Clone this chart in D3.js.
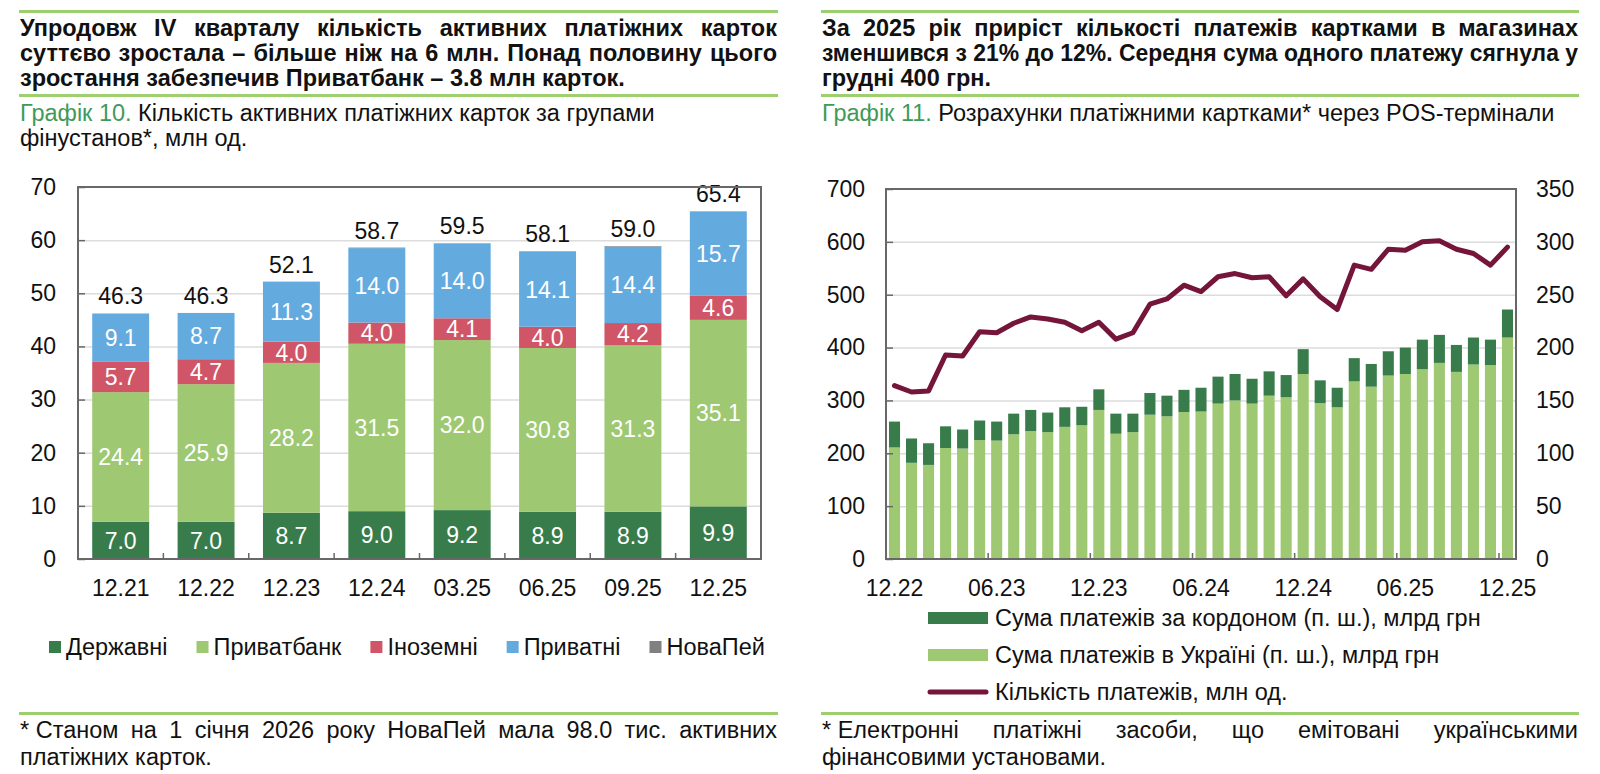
<!DOCTYPE html>
<html>
<head>
<meta charset="utf-8">
<script src="https://cdn.jsdelivr.net/npm/d3@7"></script>
<style>
    body { margin: 0; background: #fff; }
    svg text { font-family: "Liberation Sans", Arial, sans-serif; }
</style>
</head>
<body>
<svg id="chart" width="1600" height="774"></svg>
<script>
// Графік 10 - картки за групами фінустанов, млн од.
const cardDates = ['12.21', '12.22', '12.23', '12.24', '03.25', '06.25', '09.25', '12.25'];
const stateBanks = [7.0, 7.0, 8.7, 9.0, 9.2, 8.9, 8.9, 9.9];
const privatBank = [24.4, 25.9, 28.2, 31.5, 32.0, 30.8, 31.3, 35.1];
const foreignBanks = [5.7, 4.7, 4.0, 4.0, 4.1, 4.0, 4.2, 4.6];
const privateBanks = [9.1, 8.7, 11.3, 14.0, 14.0, 14.1, 14.4, 15.7];
const novaPay = [0, 0, 0, 0.1, 0.1, 0.1, 0.1, 0.1];
const cardTotals = [46.3, 46.3, 52.1, 58.7, 59.5, 58.1, 59.0, 65.4];
const cardSeriesNames = ['Державні', 'Приватбанк', 'Іноземні', 'Приватні', 'НоваПей'];
const cardTicks = [0, 10, 20, 30, 40, 50, 60, 70];

// Графік 11 - POS-термінали
const posMonths = ['12.22', '01.23', '02.23', '03.23', '04.23', '05.23', '06.23', '07.23', '08.23', '09.23', '10.23', '11.23',
    '12.23', '01.24', '02.24', '03.24', '04.24', '05.24', '06.24', '07.24', '08.24', '09.24', '10.24', '11.24',
    '12.24', '01.25', '02.25', '03.25', '04.25', '05.25', '06.25', '07.25', '08.25', '09.25', '10.25', '11.25', '12.25'];
const posUkraine = [211, 182, 178, 210, 209, 225, 224, 236, 242, 240, 250, 253, 282, 237, 240, 273, 270, 278, 279,
    294, 300, 294, 309, 306, 350, 295, 287, 336, 326, 347, 350, 359, 371, 354, 368, 367, 419];
const posAbroad = [49, 46, 41, 41, 36, 37, 36, 39, 40, 37, 37, 35, 39, 38, 35, 41, 39, 42, 45,
    51, 50, 47, 46, 42, 47, 43, 37, 44, 43, 46, 50, 56, 53, 51, 51, 48, 53];
const posCount = [164, 158, 159, 193, 192, 215, 214, 223, 229, 227, 224, 216, 224, 208, 214, 241, 246, 259, 253,
    267, 270, 266, 267, 249, 265, 248, 236, 278, 274, 293, 292, 300, 301, 293, 289, 278, 295];
const posTickMonths = ['12.22', '06.23', '12.23', '06.24', '12.24', '06.25', '12.25'];
const posLeftTicks = [0, 100, 200, 300, 400, 500, 600, 700];
const posRightTicks = [0, 50, 100, 150, 200, 250, 300, 350];
const posLegend = ['Сума платежів за кордоном (п. ш.), млрд грн', 'Сума платежів в Україні (п. ш.), млрд грн', 'Кількість платежів, млн од.'];

const colors = {
    state: '#377c4a', privat: '#9ec872', foreign: '#cf5567', priv: '#63abdf', nova: '#808080',
    line: '#741539', rule: '#9dcf6e', label: '#3f9a5a', frame: '#686868', grid: '#dcdcdc', text: '#111'
};

const svg = d3.select('#chart');

// рядок тексту, за потреби вирівняний по ширині (пробіли між словами)
function textLine(parent, str, x0, y, size, bold, width) {
    const t = parent.append('text')
        .attr('y', y)
        .attr('font-size', size)
        .attr('font-weight', bold ? 'bold' : null)
        .attr('fill', colors.text);
    if (!width) {
        t.attr('x', x0).text(str);
        return t;
    }
    const words = str.split(' ');
    const spans = words.map(w => t.append('tspan').text(w));
    const widths = spans.map(s => s.node().getComputedTextLength());
    let gap = (width - d3.sum(widths)) / (words.length - 1);
    if (gap < size * 0.2) {
        // не влазить - трохи стискаємо
        spans.forEach(s => s.remove());
        t.attr('x', x0).text(str).attr('textLength', width).attr('lengthAdjust', 'spacingAndGlyphs');
        return t;
    }
    let x = x0;
    spans.forEach((s, i) => {
        s.attr('x', x);
        x += widths[i] + gap;
    });
    return t;
}

const fs = 23.5;

function header(x0, x1, lines, subtitleNum, subtitleLines) {
    const g = svg.append('g');
    g.append('rect').attr('x', x0 - 1).attr('y', 10).attr('width', x1 - x0 + 2).attr('height', 3).attr('fill', colors.rule);
    g.append('rect').attr('x', x0 - 1).attr('y', 94).attr('width', x1 - x0 + 2).attr('height', 3).attr('fill', colors.rule);
    lines.forEach((l, i) => {
        textLine(g, l, x0, 36 + i * 25, fs, true, i < lines.length - 1 ? x1 - x0 : null);
    });
    const sub = g.append('text').attr('x', x0).attr('y', 121).attr('font-size', fs).attr('fill', colors.text);
    sub.append('tspan').attr('fill', colors.label).text(subtitleNum);
    sub.append('tspan').text(' ' + subtitleLines[0]);
    if (subtitleLines[1]) {
        textLine(g, subtitleLines[1], x0, 146, fs, false, null);
    }
}

function footer(x0, x1, lines) {
    const g = svg.append('g');
    g.append('rect').attr('x', x0 - 1).attr('y', 712).attr('width', x1 - x0 + 2).attr('height', 3).attr('fill', colors.rule);
    lines.forEach((l, i) => {
        textLine(g, l, x0, 738 + i * 27, fs, false, i < lines.length - 1 ? x1 - x0 : null);
    });
}

header(20, 777, [
    'Упродовж IV кварталу кількість активних платіжних карток',
    'суттєво зростала – більше ніж на 6 млн. Понад половину цього',
    'зростання забезпечив Приватбанк – 3.8 млн карток.'
], 'Графік 10.', ['Кількість активних платіжних карток за групами', 'фінустанов*, млн од.']);

header(822, 1578, [
    'За 2025 рік приріст кількості платежів картками в магазинах',
    'зменшився з 21% до 12%. Середня сума одного платежу сягнула у',
    'грудні 400 грн.'
], 'Графік 11.', ['Розрахунки платіжними картками* через POS-термінали']);

footer(20, 777, ['*\u00a0Станом на 1 січня 2026 року НоваПей мала 98.0 тис. активних', 'платіжних карток.']);
footer(822, 1578, ['*\u00a0Електронні платіжні засоби, що емітовані українськими', 'фінансовими установами.']);

// ---------- Графік 10 ----------
function drawCards() {
    const left = 78, right = 761, top = 187, bottom = 559;
    const g = svg.append('g');

    const x = d3.scaleBand().domain(cardDates).range([left, right]).paddingInner(0.333).paddingOuter(0.1665);
    const y = d3.scaleLinear().domain([0, 70]).range([bottom, top]);

    // сітка
    g.append('g')
        .attr('transform', `translate(${left},0)`)
        .call(d3.axisLeft(y).tickValues(cardTicks.slice(1, -1)).tickSize(-(right - left)).tickFormat(''))
        .call(a => a.select('.domain').remove())
        .selectAll('line').attr('stroke', colors.grid).attr('stroke-width', 1.5);

    const rows = cardDates.map((d, i) => ({
        date: d, state: stateBanks[i], privat: privatBank[i], foreign: foreignBanks[i], priv: privateBanks[i], nova: novaPay[i]
    }));
    const keys = ['state', 'privat', 'foreign', 'priv', 'nova'];
    const stacked = d3.stack().keys(keys)(rows);

    stacked.forEach(layer => {
        g.append('g').selectAll('rect')
            .data(layer)
            .join('rect')
            .attr('x', d => x(d.data.date))
            .attr('width', x.bandwidth())
            .attr('y', d => y(d[1]))
            .attr('height', d => y(d[0]) - y(d[1]))
            .attr('fill', colors[layer.key]);

        if (layer.key !== 'nova') {
            g.append('g').selectAll('text')
                .data(layer)
                .join('text')
                .attr('x', d => x(d.data.date) + x.bandwidth() / 2)
                .attr('y', d => y((d[0] + d[1]) / 2))
                .attr('dy', '0.36em')
                .attr('text-anchor', 'middle')
                .attr('font-size', 23)
                .attr('fill', '#fff')
                .text(d => d3.format('.1f')(d[1] - d[0]));
        }
    });

    // підсумки
    const tops = stacked[stacked.length - 1];
    g.append('g').selectAll('text')
        .data(cardTotals)
        .join('text')
        .attr('x', (d, i) => x(cardDates[i]) + x.bandwidth() / 2)
        .attr('y', (d, i) => y(tops[i][1]) - 9)
        .attr('text-anchor', 'middle')
        .attr('font-size', 23)
        .attr('fill', colors.text)
        .text(d => d3.format('.1f')(d));

    // вісь Y
    g.append('g')
        .attr('transform', `translate(${left},0)`)
        .call(d3.axisLeft(y).tickValues(cardTicks).tickSize(-7).tickPadding(22))
        .call(a => a.select('.domain').remove())
        .call(a => a.selectAll('line').attr('stroke', colors.frame).attr('stroke-width', 1.5))
        .call(a => a.selectAll('text').attr('font-size', 23).attr('fill', colors.text));

    // вісь X
    g.append('g')
        .attr('transform', `translate(0,${bottom})`)
        .call(d3.axisBottom(x).tickSize(0).tickPadding(21))
        .call(a => a.select('.domain').remove())
        .call(a => a.selectAll('text').attr('font-size', 23).attr('fill', colors.text));

    const half = x.step() * x.paddingInner() / 2;
    g.append('g').selectAll('line')
        .data(cardDates.slice(1))
        .join('line')
        .attr('x1', d => x(d) - half).attr('x2', d => x(d) - half)
        .attr('y1', bottom).attr('y2', bottom - 6)
        .attr('stroke', colors.frame).attr('stroke-width', 1.5);

    g.append('rect')
        .attr('x', left).attr('y', top).attr('width', right - left).attr('height', bottom - top)
        .attr('fill', 'none').attr('stroke', colors.frame).attr('stroke-width', 2);

    // легенда
    const legend = g.append('g');
    let lx = 49;
    cardSeriesNames.forEach((name, i) => {
        legend.append('rect').attr('x', lx).attr('y', 641).attr('width', 12).attr('height', 12).attr('fill', colors[keys[i]]);
        const t = legend.append('text').attr('x', lx + 17).attr('y', 655).attr('font-size', 23.5).attr('fill', colors.text).text(name);
        lx += 17 + t.node().getComputedTextLength() + 29;
    });
}

// ---------- Графік 11 ----------
function drawPos() {
    const left = 886, right = 1516, top = 189, bottom = 559;
    const g = svg.append('g');

    const x = d3.scaleBand().domain(posMonths).range([left, right]).paddingInner(0.35).paddingOuter(0.175);
    const y = d3.scaleLinear().domain([0, 700]).range([bottom, top]);
    const y2 = d3.scaleLinear().domain([0, 350]).range([bottom, top]);

    g.append('g')
        .attr('transform', `translate(${left},0)`)
        .call(d3.axisLeft(y).tickValues(posLeftTicks.slice(1, -1)).tickSize(-(right - left)).tickFormat(''))
        .call(a => a.select('.domain').remove())
        .selectAll('line').attr('stroke', colors.grid).attr('stroke-width', 1.5);

    g.append('g').selectAll('rect')
        .data(posUkraine)
        .join('rect')
        .attr('x', (d, i) => x(posMonths[i]))
        .attr('width', x.bandwidth())
        .attr('y', d => y(d))
        .attr('height', d => bottom - y(d))
        .attr('fill', colors.privat);

    g.append('g').selectAll('rect')
        .data(posAbroad)
        .join('rect')
        .attr('x', (d, i) => x(posMonths[i]))
        .attr('width', x.bandwidth())
        .attr('y', (d, i) => y(posUkraine[i] + d))
        .attr('height', (d, i) => y(posUkraine[i]) - y(posUkraine[i] + d))
        .attr('fill', colors.state);

    const line = d3.line()
        .x((d, i) => x(posMonths[i]) + x.bandwidth() / 2)
        .y(d => y2(d));
    g.append('path')
        .datum(posCount)
        .attr('d', line)
        .attr('fill', 'none')
        .attr('stroke', colors.line)
        .attr('stroke-width', 5)
        .attr('stroke-linejoin', 'round')
        .attr('stroke-linecap', 'round');

    g.append('g')
        .attr('transform', `translate(${left},0)`)
        .call(d3.axisLeft(y).tickValues(posLeftTicks).tickSize(-7).tickPadding(21))
        .call(a => a.select('.domain').remove())
        .call(a => a.selectAll('line').attr('stroke', colors.frame).attr('stroke-width', 1.5))
        .call(a => a.selectAll('text').attr('font-size', 23).attr('fill', colors.text));

    g.append('g')
        .attr('transform', `translate(${right},0)`)
        .call(d3.axisRight(y2).tickValues(posRightTicks).tickSize(0).tickPadding(20))
        .call(a => a.select('.domain').remove())
        .call(a => a.selectAll('text').attr('font-size', 23).attr('fill', colors.text));

    g.append('g')
        .attr('transform', `translate(0,${bottom})`)
        .call(d3.axisBottom(x).tickValues(posTickMonths).tickSize(0).tickPadding(21))
        .call(a => a.select('.domain').remove())
        .call(a => a.selectAll('text').attr('font-size', 23).attr('fill', colors.text));

    const half = x.step() * x.paddingInner() / 2;
    g.append('g').selectAll('line')
        .data(posTickMonths.slice(1))
        .join('line')
        .attr('x1', d => x(d) - half).attr('x2', d => x(d) - half)
        .attr('y1', bottom).attr('y2', bottom - 6)
        .attr('stroke', colors.frame).attr('stroke-width', 1.5);

    g.append('rect')
        .attr('x', left).attr('y', top).attr('width', right - left).attr('height', bottom - top)
        .attr('fill', 'none').attr('stroke', colors.frame).attr('stroke-width', 2);

    // легенда
    const legend = g.append('g');
    const swatchColors = [colors.state, colors.privat];
    posLegend.forEach((name, i) => {
        const cy = 618 + i * 37;
        if (i < 2) {
            legend.append('rect').attr('x', 928).attr('y', cy - 6).attr('width', 60).attr('height', 12).attr('fill', swatchColors[i]);
        } else {
            legend.append('line').attr('x1', 930).attr('x2', 986).attr('y1', cy).attr('y2', cy)
                .attr('stroke', colors.line).attr('stroke-width', 5).attr('stroke-linecap', 'round');
        }
        legend.append('text').attr('x', 995).attr('y', cy + 8).attr('font-size', 23.5).attr('fill', colors.text).text(name);
    });
}

drawCards();
drawPos();
</script>
</body>
</html>
